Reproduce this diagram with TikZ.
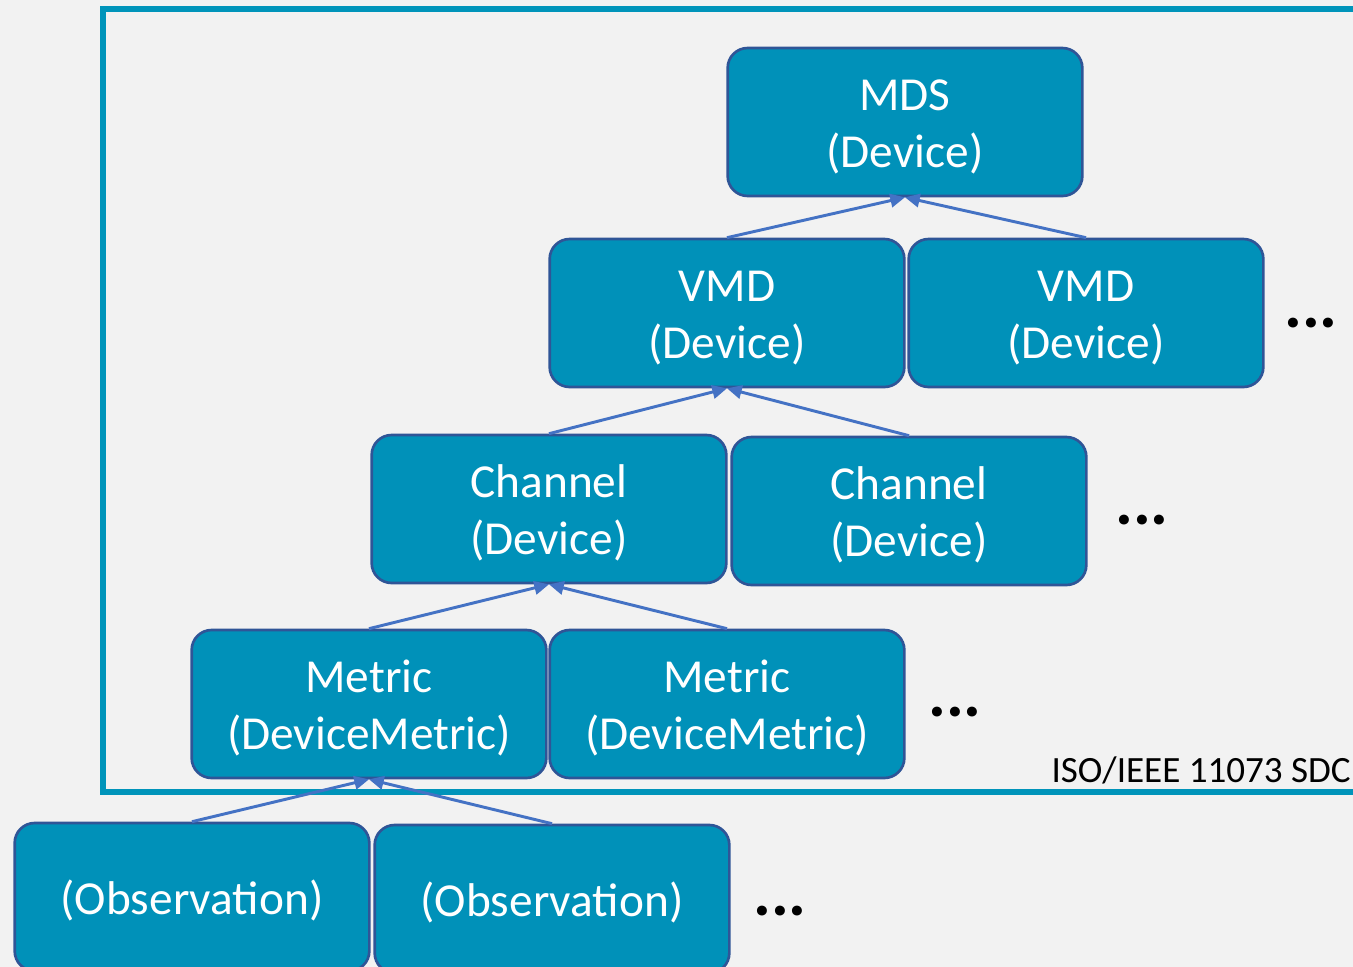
\documentclass[tikz,border=0pt]{standalone}
\usepackage{fontspec}
\setmainfont{Carlito}
\usetikzlibrary{arrows.meta}
\definecolor{bg}{HTML}{F2F2F2}
\definecolor{boxfill}{HTML}{0091B9}
\definecolor{boxline}{HTML}{2F5597}
\definecolor{frame}{HTML}{0094BA}
\definecolor{arrowc}{HTML}{4472C4}
\newcommand{\boxtext}[1]{\raisebox{0pt}[\dimexpr\height+9pt\relax][\depth]{\begin{tabular}{@{}c@{}}#1\end{tabular}}}
\tikzset{
  entity/.style={draw=boxline, line width=2pt, fill=boxfill, rounded corners=15pt,
    minimum width=266pt, minimum height=111pt, text=white, inner sep=0pt,
    font=\fontsize{35.5}{42.75}\selectfont},
  link/.style={draw=arrowc, line width=2.2pt, -{Triangle[length=11pt,width=10pt]}},
  more/.style={font=\fontsize{50}{60}\selectfont\bfseries, inner sep=0pt},
}
\begin{document}
\begin{tikzpicture}[x=0.75pt,y=-0.75pt]
\useasboundingbox (0,0) rectangle (1353,967);
\clip (0,0) rectangle (1353,967);
\fill[bg] (0,0) rectangle (1353,967);
\draw[frame, line width=3.8pt] (103,9) rectangle (1380,792);
\node[anchor=base east, font=\fontsize{27.8}{33}\selectfont, inner sep=0pt] (label) at (1351,782) {ISO/IEEE 11073 SDC};
\node[entity] (mds) at (905,122) {\boxtext{MDS\\(Device)}};
\node[entity] (vmd1) at (727,313) {\boxtext{VMD\\(Device)}};
\node[entity] (vmd2) at (1086,313) {\boxtext{VMD\\(Device)}};
\node[entity] (ch1) at (549,509) {\boxtext{Channel\\(Device)}};
\node[entity] (ch2) at (909,511) {\boxtext{Channel\\(Device)}};
\node[entity] (met1) at (369,704) {\boxtext{Metric\\(DeviceMetric)}};
\node[entity] (met2) at (727,704) {\boxtext{Metric\\(DeviceMetric)}};
\node[entity] (obs1) at (192,897) {\boxtext{(Observation)}};
\node[entity] (obs2) at (552,899) {\boxtext{(Observation)}};
\node[more, anchor=base] (d1) at (1311,327) {...};
\node[more, anchor=base] (d2) at (1142,524) {...};
\node[more, anchor=base] (d3) at (955,716) {...};
\node[more, anchor=base] (d4) at (780,915) {...};
\draw[link] (vmd1.north) -- (mds.south);
\draw[link] (vmd2.north) -- (mds.south);
\draw[link] (ch1.north) -- (vmd1.south);
\draw[link] (ch2.north) -- (vmd1.south);
\draw[link] (met1.north) -- (ch1.south);
\draw[link] (met2.north) -- (ch1.south);
\draw[link] (obs1.north) -- (met1.south);
\draw[link] (obs2.north) -- (met1.south);
\end{tikzpicture}
\end{document}
